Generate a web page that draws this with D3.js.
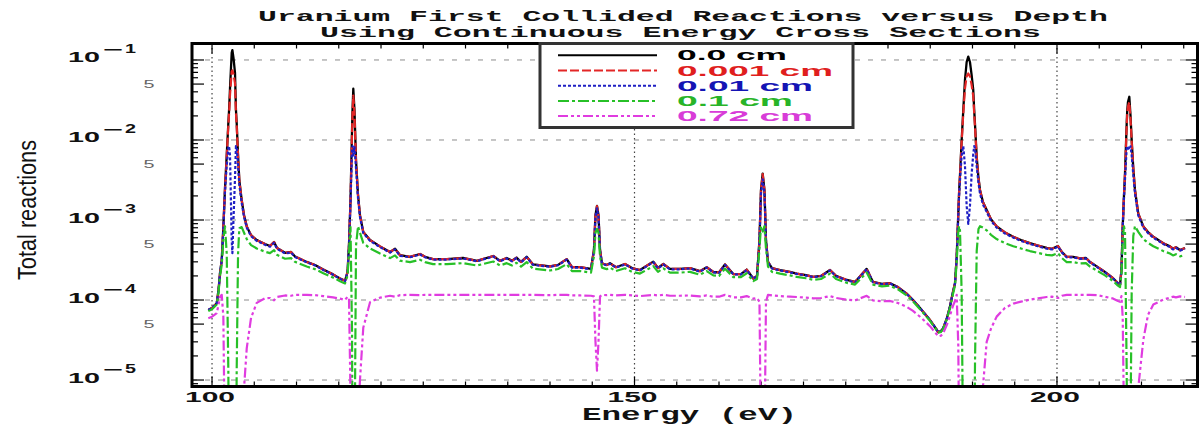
<!DOCTYPE html>
<html>
<head>
<meta charset="utf-8">
<title>Uranium First Collided Reactions versus Depth</title>
<script src="https://cdn.jsdelivr.net/npm/d3@7/dist/d3.min.js"></script>
<style>
html,body{margin:0;padding:0;background:#fff;}
svg{display:block;}
</style>
</head>
<body>
<svg id="chart" width="1199" height="426"></svg>
<script>
// ---------------- data ----------------
const energy = [
99.56,100.00,100.56,100.77,100.95,101.15,101.34,101.54,101.74,101.93,
102.02,102.13,102.33,102.41,102.54,102.72,102.83,102.92,103.08,103.23,
103.51,103.79,104.11,104.62,105.29,106.27,106.86,107.34,107.69,108.64,
109.35,109.82,111.21,112.19,113.17,114.32,115.15,115.74,116.04,116.21,
116.39,116.57,116.63,116.72,116.86,117.04,117.28,117.51,117.90,118.70,
119.88,121.07,121.66,122.25,123.43,124.62,125.21,126.15,127.81,129.70,
131.36,133.29,134.08,134.88,135.50,136.04,136.57,137.24,137.99,140.00,
140.95,141.98,142.60,143.55,144.85,145.20,145.38,145.56,145.74,145.92,
146.15,146.71,147.10,147.81,148.88,149.70,150.65,152.22,152.78,153.41,
154.20,155.38,156.57,157.75,158.54,159.33,160.00,160.71,161.69,162.60,
163.28,164.06,164.50,164.79,164.97,165.17,165.38,165.56,165.80,166.27,
167.22,168.40,169.19,170.30,171.16,172.07,173.14,173.85,175.12,176.10,
177.48,178.22,179.29,180.24,181.18,182.21,182.96,183.79,184.38,184.97,
185.56,185.95,186.27,186.55,186.98,187.34,187.69,187.93,188.13,188.32,
188.42,188.52,188.72,188.91,189.11,189.31,189.50,189.70,189.90,190.09,
190.20,190.30,190.50,190.71,190.89,191.24,191.68,192.19,192.86,193.85,
194.83,195.74,196.80,197.75,198.78,199.41,200.12,200.59,201.15,201.90,
202.72,203.43,203.91,204.70,205.68,206.67,207.22,207.46,207.63,207.78,
207.93,208.05,208.25,208.31,208.40,208.56,208.70,208.84,209.03,209.23,
209.62,210.22,210.77,211.40,212.58,213.37,213.73,214.08,214.56,215.15
];

const depth0 = [
7.50e-5,7.94e-5,9.12e-5,1.33e-4,2.19e-4,3.16e-4,8.13e-4,2.57e-3,6.46e-3,1.62e-2,
2.40e-2,4.47e-2,1.23e-1,1.33e-1,1.06e-1,6.92e-2,2.40e-2,1.62e-2,6.46e-3,3.16e-3,
1.78e-3,1.15e-3,8.32e-4,6.46e-4,5.62e-4,5.01e-4,4.73e-4,5.31e-4,4.47e-4,3.89e-4,
3.98e-4,3.50e-4,2.99e-4,2.74e-4,2.40e-4,2.09e-4,1.86e-4,1.74e-4,2.24e-4,4.90e-4,
1.78e-3,1.33e-2,2.40e-2,4.37e-2,2.37e-2,5.62e-3,2.04e-3,1.15e-3,7.08e-4,5.62e-4,
4.68e-4,3.98e-4,4.37e-4,3.63e-4,3.47e-4,3.76e-4,3.47e-4,3.24e-4,3.24e-4,3.35e-4,
3.09e-4,3.55e-4,3.09e-4,3.35e-4,3.09e-4,3.39e-4,2.99e-4,3.47e-4,2.78e-4,2.63e-4,
2.75e-4,3.24e-4,2.57e-4,2.57e-4,2.45e-4,4.22e-4,1.15e-3,1.50e-3,1.15e-3,4.22e-4,
2.88e-4,2.74e-4,2.88e-4,2.57e-4,2.82e-4,2.51e-4,2.37e-4,3.02e-4,2.51e-4,2.82e-4,
2.45e-4,2.45e-4,2.51e-4,2.29e-4,2.57e-4,2.24e-4,2.21e-4,2.78e-4,2.11e-4,2.11e-4,
2.40e-4,1.86e-4,2.00e-4,5.62e-4,2.37e-3,3.80e-3,2.37e-3,5.62e-4,2.99e-4,2.51e-4,
2.37e-4,2.24e-4,2.14e-4,2.04e-4,1.95e-4,2.00e-4,2.37e-4,2.00e-4,1.78e-4,1.68e-4,
2.45e-4,1.68e-4,1.59e-4,1.62e-4,1.45e-4,1.20e-4,1.00e-4,7.94e-5,6.68e-5,5.62e-5,
4.57e-5,3.98e-5,4.07e-5,4.47e-5,5.96e-5,8.32e-5,1.26e-4,1.62e-4,3.47e-4,1.20e-3,
2.29e-3,3.63e-3,1.00e-2,2.37e-2,5.62e-2,9.44e-2,1.10e-1,9.44e-2,6.46e-2,4.22e-2,
2.40e-2,1.55e-2,6.17e-3,3.35e-3,2.37e-3,1.68e-3,1.33e-3,1.02e-3,8.32e-4,6.98e-4,
6.17e-4,5.62e-4,5.13e-4,4.79e-4,4.47e-4,4.37e-4,4.73e-4,3.98e-4,3.47e-4,3.47e-4,
3.31e-4,3.35e-4,2.99e-4,2.63e-4,2.24e-4,1.86e-4,1.62e-4,1.55e-4,2.37e-4,8.32e-4,
2.04e-3,3.80e-3,1.62e-2,2.29e-2,2.99e-2,3.47e-2,2.04e-2,1.00e-2,4.47e-3,2.37e-3,
1.20e-3,8.32e-4,7.08e-4,6.17e-4,5.13e-4,4.68e-4,4.37e-4,4.57e-4,4.22e-4,4.47e-4
];

const depth0001 = [
7.50e-5,7.94e-5,9.12e-5,1.33e-4,2.19e-4,3.16e-4,8.10e-4,2.54e-3,6.28e-3,1.51e-2,
2.16e-2,3.67e-2,7.18e-2,7.43e-2,6.65e-2,5.11e-2,2.16e-2,1.51e-2,6.28e-3,3.12e-3,
1.77e-3,1.14e-3,8.30e-4,6.45e-4,5.61e-4,5.01e-4,4.73e-4,5.30e-4,4.47e-4,3.89e-4,
3.98e-4,3.50e-4,2.99e-4,2.74e-4,2.40e-4,2.09e-4,1.86e-4,1.74e-4,2.24e-4,4.90e-4,
1.77e-3,1.26e-2,2.16e-2,3.60e-2,2.14e-2,5.48e-3,2.03e-3,1.14e-3,7.07e-4,5.61e-4,
4.68e-4,3.98e-4,4.37e-4,3.63e-4,3.47e-4,3.76e-4,3.47e-4,3.24e-4,3.24e-4,3.35e-4,
3.09e-4,3.55e-4,3.09e-4,3.35e-4,3.09e-4,3.39e-4,2.99e-4,3.47e-4,2.78e-4,2.63e-4,
2.75e-4,3.24e-4,2.57e-4,2.57e-4,2.45e-4,4.22e-4,1.14e-3,1.49e-3,1.14e-3,4.22e-4,
2.88e-4,2.74e-4,2.88e-4,2.57e-4,2.82e-4,2.51e-4,2.37e-4,3.02e-4,2.51e-4,2.82e-4,
2.45e-4,2.45e-4,2.51e-4,2.29e-4,2.57e-4,2.24e-4,2.21e-4,2.78e-4,2.11e-4,2.11e-4,
2.40e-4,1.86e-4,2.00e-4,5.61e-4,2.36e-3,3.74e-3,2.36e-3,5.61e-4,2.99e-4,2.51e-4,
2.37e-4,2.24e-4,2.14e-4,2.04e-4,1.95e-4,2.00e-4,2.37e-4,2.00e-4,1.78e-4,1.68e-4,
2.45e-4,1.68e-4,1.59e-4,1.62e-4,1.45e-4,1.20e-4,1.00e-4,7.94e-5,6.68e-5,5.62e-5,
4.57e-5,3.98e-5,4.07e-5,4.47e-5,5.96e-5,8.32e-5,1.26e-4,1.62e-4,3.47e-4,1.20e-3,
2.28e-3,3.57e-3,9.57e-3,2.14e-2,4.40e-2,6.24e-2,6.78e-2,6.24e-2,4.86e-2,3.51e-2,
2.16e-2,1.45e-2,6.00e-3,3.33e-3,2.36e-3,1.67e-3,1.33e-3,1.02e-3,8.30e-4,6.97e-4,
6.16e-4,5.61e-4,5.13e-4,4.79e-4,4.47e-4,4.37e-4,4.73e-4,3.98e-4,3.47e-4,3.47e-4,
3.31e-4,3.35e-4,2.99e-4,2.63e-4,2.24e-4,1.86e-4,1.62e-4,1.55e-4,2.37e-4,8.30e-4,
2.03e-3,3.74e-3,1.51e-2,2.07e-2,2.62e-2,2.98e-2,1.87e-2,9.57e-3,4.43e-3,2.36e-3,
1.20e-3,8.30e-4,7.07e-4,6.16e-4,5.13e-4,4.68e-4,4.37e-4,4.57e-4,4.22e-4,4.47e-4
];

const depth001 = [
7.50e-5,7.94e-5,9.12e-5,1.33e-4,2.17e-4,3.12e-4,7.84e-4,2.30e-3,4.86e-3,7.96e-3,
8.38e-3,6.30e-3,5.62e-4,3.85e-4,1.01e-3,3.33e-3,8.38e-3,7.96e-3,4.86e-3,2.75e-3,
1.64e-3,1.09e-3,8.02e-4,6.28e-4,5.48e-4,4.90e-4,4.63e-4,5.18e-4,4.38e-4,3.82e-4,
3.91e-4,3.45e-4,2.95e-4,2.71e-4,2.37e-4,2.07e-4,1.84e-4,1.72e-4,2.22e-4,4.80e-4,
1.64e-3,7.43e-3,8.38e-3,6.43e-3,8.38e-3,4.40e-3,1.87e-3,1.09e-3,6.86e-4,5.48e-4,
4.58e-4,3.91e-4,4.29e-4,3.57e-4,3.42e-4,3.70e-4,3.42e-4,3.20e-4,3.20e-4,3.31e-4,
3.05e-4,3.50e-4,3.05e-4,3.31e-4,3.05e-4,3.35e-4,2.95e-4,3.42e-4,2.75e-4,2.60e-4,
2.72e-4,3.20e-4,2.54e-4,2.54e-4,2.42e-4,4.14e-4,1.09e-3,1.40e-3,1.09e-3,4.14e-4,
2.84e-4,2.71e-4,2.84e-4,2.54e-4,2.78e-4,2.48e-4,2.34e-4,2.98e-4,2.48e-4,2.78e-4,
2.42e-4,2.42e-4,2.48e-4,2.26e-4,2.54e-4,2.21e-4,2.18e-4,2.75e-4,2.09e-4,2.09e-4,
2.37e-4,1.84e-4,1.98e-4,5.48e-4,2.14e-3,3.22e-3,2.14e-3,5.48e-4,2.95e-4,2.48e-4,
2.34e-4,2.21e-4,2.12e-4,2.02e-4,1.93e-4,1.98e-4,2.34e-4,1.98e-4,1.76e-4,1.66e-4,
2.42e-4,1.66e-4,1.57e-4,1.61e-4,1.43e-4,1.19e-4,9.98e-5,7.93e-5,6.67e-5,5.61e-5,
4.57e-5,3.98e-5,4.07e-5,4.47e-5,5.95e-5,8.31e-5,1.25e-4,1.61e-4,3.42e-4,1.14e-3,
2.07e-3,3.10e-3,6.46e-3,8.38e-3,4.78e-3,1.50e-3,8.95e-4,1.50e-3,3.80e-3,6.62e-3,
8.38e-3,7.85e-3,4.70e-3,2.89e-3,2.14e-3,1.56e-3,1.26e-3,9.78e-4,8.02e-4,6.77e-4,
6.02e-4,5.48e-4,5.01e-4,4.69e-4,4.38e-4,4.29e-4,4.63e-4,3.91e-4,3.42e-4,3.42e-4,
3.27e-4,3.31e-4,2.95e-4,2.60e-4,2.21e-4,1.84e-4,1.61e-4,1.54e-4,2.34e-4,8.02e-4,
1.87e-3,3.22e-3,7.96e-3,8.39e-3,8.05e-3,7.57e-3,8.34e-3,6.46e-3,3.67e-3,2.14e-3,
1.14e-3,8.02e-4,6.86e-4,6.02e-4,5.01e-4,4.58e-4,4.29e-4,4.48e-4,4.14e-4,4.38e-4
];

const depth01 = [
7.26e-5,7.67e-5,8.77e-5,1.26e-4,1.99e-4,2.75e-4,5.69e-4,8.32e-4,3.80e-4,1.32e-5,
6.5e-7,1e-7,1e-7,1e-7,1e-7,1e-7,6.5e-7,1.32e-5,3.80e-4,7.91e-4,
8.15e-4,6.93e-4,5.78e-4,4.86e-4,4.40e-4,4.02e-4,3.85e-4,4.21e-4,3.67e-4,3.28e-4,
3.34e-4,3.00e-4,2.62e-4,2.43e-4,2.16e-4,1.91e-4,1.72e-4,1.61e-4,2.03e-4,3.95e-4,
8.15e-4,3.85e-5,6.5e-7,1e-7,7e-7,4.79e-4,8.34e-4,6.93e-4,5.19e-4,4.40e-4,
3.81e-4,3.34e-4,3.61e-4,3.10e-4,2.98e-4,3.18e-4,2.98e-4,2.81e-4,2.81e-4,2.89e-4,
2.70e-4,3.03e-4,2.70e-4,2.89e-4,2.70e-4,2.92e-4,2.62e-4,2.98e-4,2.46e-4,2.34e-4,
2.44e-4,2.81e-4,2.30e-4,2.30e-4,2.20e-4,3.51e-4,6.93e-4,7.75e-4,6.93e-4,3.51e-4,
2.54e-4,2.43e-4,2.54e-4,2.30e-4,2.49e-4,2.25e-4,2.14e-4,2.65e-4,2.25e-4,2.49e-4,
2.20e-4,2.20e-4,2.25e-4,2.07e-4,2.30e-4,2.03e-4,2.00e-4,2.46e-4,1.93e-4,1.93e-4,
2.16e-4,1.72e-4,1.83e-4,4.40e-4,8.38e-4,7.18e-4,8.38e-4,4.40e-4,2.62e-4,2.25e-4,
2.14e-4,2.03e-4,1.95e-4,1.87e-4,1.79e-4,1.83e-4,2.14e-4,1.83e-4,1.64e-4,1.56e-4,
2.20e-4,1.56e-4,1.48e-4,1.51e-4,1.36e-4,1.14e-4,9.57e-5,7.67e-5,6.49e-5,5.48e-5,
4.48e-5,3.91e-5,4.00e-5,4.38e-5,5.81e-5,8.02e-5,1.19e-4,1.51e-4,2.98e-4,7.10e-4,
8.39e-4,7.41e-4,1.24e-4,7e-7,1e-7,1e-7,1e-7,1e-7,1e-7,1e-7,
6.5e-7,1.74e-5,4.12e-4,7.71e-4,8.38e-4,8.04e-4,7.43e-4,6.53e-4,5.78e-4,5.14e-4,
4.70e-4,4.40e-4,4.09e-4,3.88e-4,3.67e-4,3.61e-4,3.85e-4,3.34e-4,2.98e-4,2.98e-4,
2.86e-4,2.89e-4,2.62e-4,2.34e-4,2.03e-4,1.72e-4,1.51e-4,1.45e-4,2.14e-4,5.78e-4,
8.34e-4,7.18e-4,1.32e-5,1e-6,1e-7,1e-7,2.6e-6,1.24e-4,6.30e-4,8.38e-4,
7.10e-4,5.78e-4,5.19e-4,4.70e-4,4.09e-4,3.81e-4,3.61e-4,3.74e-4,3.51e-4,3.67e-4
];

const depth072 = [
5.92e-5,6.18e-5,6.84e-5,8.75e-5,1.10e-4,1.16e-4,6.24e-5,7.6e-7,1e-7,1e-7,
1e-7,1e-7,1e-7,1e-7,1e-7,1e-7,1e-7,1e-7,1e-7,1e-7,
6.5e-6,8e-6,2.5e-5,6.0e-5,9.2e-5,1.05e-4,1.06e-4,9.93e-5,1.09e-4,1.14e-4,
1.13e-4,1.16e-4,1.16e-4,1.15e-4,1.12e-4,1.08e-4,1.04e-4,1.00e-4,1.10e-4,1.04e-4,
6.5e-6,1e-7,1e-7,1e-7,1e-7,1e-7,3.2e-6,1.0e-5,4.5e-5,9.4e-5,
1.07e-4,1.13e-4,1.10e-4,1.15e-4,1.16e-4,1.15e-4,1.16e-4,1.16e-4,1.16e-4,1.16e-4,
1.16e-4,1.16e-4,1.16e-4,1.16e-4,1.16e-4,1.16e-4,1.16e-4,1.16e-4,1.16e-4,1.15e-4,
1.16e-4,1.16e-4,1.14e-4,1.14e-4,1.13e-4,1.11e-4,3.04e-5,1.31e-5,3.04e-5,1.11e-4,
1.16e-4,1.15e-4,1.16e-4,1.14e-4,1.16e-4,1.14e-4,1.12e-4,1.16e-4,1.14e-4,1.16e-4,
1.13e-4,1.13e-4,1.14e-4,1.11e-4,1.14e-4,1.10e-4,1.10e-4,1.16e-4,1.08e-4,1.08e-4,
1.12e-4,1.04e-4,1.06e-4,9.53e-5,1.3e-6,1e-7,1.3e-6,9.53e-5,1.16e-4,1.14e-4,
1.12e-4,1.10e-4,1.09e-4,1.07e-4,1.05e-4,1.06e-4,1.12e-4,1.06e-4,1.01e-4,9.89e-5,
1.13e-4,9.89e-5,9.62e-5,9.73e-5,9.16e-5,8.22e-5,7.30e-5,6.18e-5,5.41e-5,4.71e-5,
3.96e-5,3.51e-5,3.58e-5,3.88e-5,4.93e-5,6.40e-5,8.45e-5,9.73e-5,1.16e-4,2.7e-5,
1.7e-6,1e-7,1e-7,1e-7,1e-7,1e-7,1e-7,1e-7,1e-7,1e-7,
1e-7,1e-7,1e-7,1e-7,1.3e-6,8.3e-6,3.0e-5,4.4e-5,6.2e-5,8.0e-5,
9.0e-5,9.53e-5,1.01e-4,1.05e-4,1.09e-4,1.10e-4,1.06e-4,1.13e-4,1.16e-4,1.16e-4,
1.16e-4,1.16e-4,1.16e-4,1.15e-4,1.10e-4,1.04e-4,9.73e-5,9.51e-5,1.12e-4,6.0e-5,
3.2e-6,1e-7,1e-7,1e-7,1e-7,1e-7,1e-7,1e-7,1e-7,1.3e-6,
8e-6,3.2e-5,6.5e-5,8.79e-5,1.01e-4,1.07e-4,1.10e-4,1.08e-4,1.11e-4,1.09e-4
];

const legendLabels = ["0.0 cm", "0.001 cm", "0.01 cm", "0.1 cm", "0.72 cm"];
const xTickLabels = [100, 150, 200];
const yDecades = [-1, -2, -3, -4, -5];
const titleLines = ["Uranium First Collided Reactions versus Depth", "Using Continuous Energy Cross Sections"];
const xAxisTitle = "Energy (eV)";
const yAxisTitle = "Total reactions";

// ---------------- drawing ----------------
const svg = d3.select("#chart");
const P = {l: 192, r: 1197.5, t: 43.5, b: 386.5};
const x = d3.scaleLinear().domain([97.63, 216.63]).range([P.l, P.r]);
const y = d3.scaleLog().domain([Math.pow(10, -5.081), Math.pow(10, -0.794)]).range([P.b, P.t]);

svg.append("rect").attr("width", 1199).attr("height", 426).attr("fill", "#fff");
svg.append("defs").append("clipPath").attr("id", "plotClip")
  .append("rect").attr("x", P.l).attr("y", P.t).attr("width", P.r - P.l).attr("height", P.b - P.t);

// grid lines
const grid = svg.append("g");
grid.selectAll("line.hg").data(yDecades).join("line").attr("class", "hg")
  .attr("x1", P.l).attr("x2", P.r)
  .attr("y1", d => y(Math.pow(10, d))).attr("y2", d => y(Math.pow(10, d)))
  .attr("stroke", "#8c8c8c").attr("stroke-width", 1).attr("stroke-dasharray", "5,8");
grid.selectAll("line.vg").data(xTickLabels).join("line").attr("class", "vg")
  .attr("x1", d => x(d)).attr("x2", d => x(d)).attr("y1", P.t).attr("y2", P.b)
  .attr("stroke", "#444").attr("stroke-width", 1.2).attr("stroke-dasharray", "1.5,3");

// ticks
const yd = y.domain();
const yTicks = [];
for (let k = -6; k <= 0; k++) for (let m = 1; m <= 9; m++) {
  const v = m * Math.pow(10, k);
  if (v >= yd[0] && v <= yd[1]) yTicks.push({v, m});
}
const tk = svg.append("g").attr("stroke", "#000").attr("stroke-width", 1.2);
yTicks.forEach(t => {
  const len = (t.m === 1 || t.m === 5) ? 12 : 6;
  const yy = y(t.v);
  tk.append("line").attr("x1", P.l).attr("x2", P.l + len).attr("y1", yy).attr("y2", yy);
  tk.append("line").attr("x1", P.r).attr("x2", P.r - len).attr("y1", yy).attr("y2", yy);
});
d3.range(100, 216, 5).forEach(e => {
  const len = (e % 50 === 0) ? 10 : 5;
  const xx = x(e);
  tk.append("line").attr("x1", xx).attr("x2", xx).attr("y1", P.t).attr("y2", P.t + len);
  tk.append("line").attr("x1", xx).attr("x2", xx).attr("y1", P.b).attr("y2", P.b - len);
});

// series
const series = [
  {values: depth0,    color: "#000000", dash: null,           width: 2.3},
  {values: depth0001, color: "#e32626", dash: "9,3",          width: 2.2},
  {values: depth001,  color: "#1f1fc4", dash: "3,2",          width: 2.2},
  {values: depth01,   color: "#27c027", dash: "11,3,3,3",     width: 2.2},
  {values: depth072,  color: "#e03ce0", dash: "10,3,3,3,3,3", width: 2.2}
];
const textColors = ["#000000", "#e01e1e", "#1414b4", "#28b428", "#d83cd8"];
const line = d3.line().x((d, i) => x(energy[i])).y(d => y(d));
const gData = svg.append("g").attr("clip-path", "url(#plotClip)");
series.forEach(s => {
  gData.append("path").datum(s.values).attr("d", line)
    .attr("fill", "none").attr("stroke", s.color).attr("stroke-width", s.width)
    .attr("stroke-linejoin", "round").attr("stroke-dasharray", s.dash);
});

// frame
svg.append("rect").attr("x", P.l).attr("y", P.t).attr("width", P.r - P.l).attr("height", P.b - P.t)
  .attr("fill", "none").attr("stroke", "#000").attr("stroke-width", 3);

// y tick labels
yDecades.forEach(k => {
  const yy = y(Math.pow(10, k));
  svg.append("text").attr("x", 68).attr("y", yy + 2.5).text("10")
    .attr("font-family", "Liberation Sans, Arial, sans-serif").attr("font-weight", "bold")
    .attr("font-size", 14).attr("textLength", 32).attr("lengthAdjust", "spacingAndGlyphs").attr("fill", "#111");
  svg.append("text").attr("x", 103).attr("y", yy - 6).text("\u2212")
    .attr("font-family", "Liberation Sans, Arial, sans-serif").attr("font-weight", "bold")
    .attr("font-size", 13).attr("textLength", 20).attr("lengthAdjust", "spacingAndGlyphs").attr("fill", "#111");
  svg.append("text").attr("x", 125).attr("y", yy - 7).text(String(-k))
    .attr("font-family", "Liberation Sans, Arial, sans-serif").attr("font-weight", "bold")
    .attr("font-size", 12).attr("textLength", 11).attr("lengthAdjust", "spacingAndGlyphs").attr("fill", "#111");
  const v5 = 5 * Math.pow(10, k - 1);
  if (v5 >= yd[0] && v5 <= yd[1]) {
    svg.append("text").attr("x", 149).attr("y", y(v5) + 4).text("5").attr("text-anchor", "middle")
      .attr("font-family", "Liberation Sans, Arial, sans-serif").attr("font-size", 11)
      .attr("textLength", 11).attr("lengthAdjust", "spacingAndGlyphs").attr("fill", "#666");
  }
});

// x tick labels
xTickLabels.forEach(e => {
  svg.append("text").attr("x", x(e) - 2).attr("y", 402).text(String(e)).attr("text-anchor", "middle")
    .attr("font-family", "Liberation Sans, Arial, sans-serif").attr("font-weight", "bold")
    .attr("font-size", 14).attr("textLength", 50).attr("lengthAdjust", "spacingAndGlyphs").attr("fill", "#111");
});

// axis titles
svg.append("text").attr("x", 582).attr("y", 420).text(xAxisTitle)
  .attr("font-family", "Liberation Mono, Courier New, monospace").attr("font-weight", "bold")
  .attr("font-size", 18).attr("textLength", 215).attr("lengthAdjust", "spacingAndGlyphs").attr("fill", "#111");
svg.append("text").attr("transform", "translate(36,210) rotate(-90)").attr("text-anchor", "middle")
  .text(yAxisTitle).attr("font-family", "Liberation Sans, Arial, sans-serif").attr("font-size", 26)
  .attr("textLength", 140).attr("lengthAdjust", "spacingAndGlyphs").attr("fill", "#111");

// title
svg.append("text").attr("x", 258).attr("y", 21).text(titleLines[0])
  .attr("font-family", "Liberation Mono, Courier New, monospace").attr("font-weight", "bold")
  .attr("font-size", 15.5).attr("textLength", 850).attr("lengthAdjust", "spacingAndGlyphs").attr("fill", "#111");
svg.append("text").attr("x", 320).attr("y", 37).text(titleLines[1])
  .attr("font-family", "Liberation Mono, Courier New, monospace").attr("font-weight", "bold")
  .attr("font-size", 15.5).attr("textLength", 721).attr("lengthAdjust", "spacingAndGlyphs").attr("fill", "#111");

// legend
const lg = svg.append("g");
lg.append("rect").attr("x", 540).attr("y", 43.5).attr("width", 313).attr("height", 84)
  .attr("fill", "#fff").attr("stroke", "#333").attr("stroke-width", 3);
const legendWidths = [110, 156, 136, 116, 136];
legendLabels.forEach((lab, i) => {
  const yy = 55.3 + i * 15.2;
  lg.append("line").attr("x1", 558).attr("x2", 657).attr("y1", yy).attr("y2", yy)
    .attr("stroke", series[i].color).attr("stroke-width", 2).attr("stroke-dasharray", series[i].dash);
  lg.append("text").attr("x", 677).attr("y", yy + 5).text(lab)
    .attr("font-family", "Liberation Sans, Arial, sans-serif").attr("font-weight", "bold")
    .attr("font-size", 14).attr("textLength", legendWidths[i]).attr("lengthAdjust", "spacingAndGlyphs")
    .attr("fill", textColors[i]);
});
</script>
</body>
</html>
